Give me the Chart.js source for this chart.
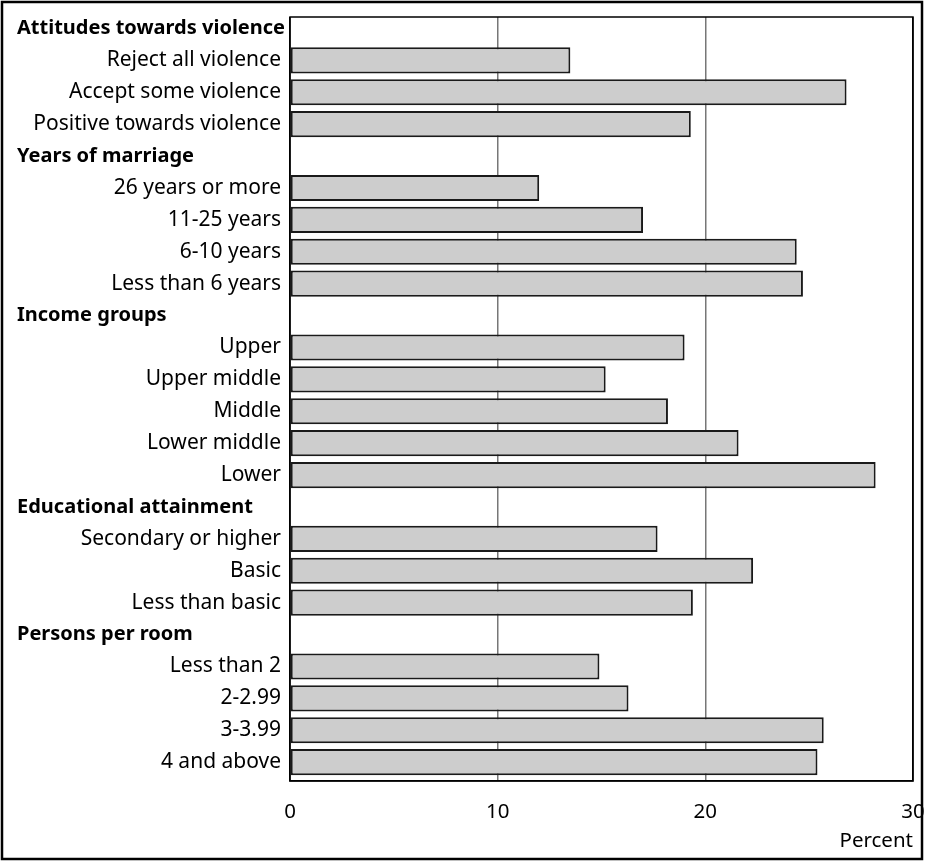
<!DOCTYPE html>
<html>
<head>
<meta charset="utf-8">
<script src="https://cdn.jsdelivr.net/npm/chart.js@4/dist/chart.umd.min.js"></script>
<style>
  html, body { margin: 0; padding: 0; background: #fff; }
  #wrap { position: relative; width: 925px; height: 861px; }
</style>
</head>
<body>
<div id="wrap"><canvas id="barChart"></canvas></div>
<script>
// rows top to bottom; group headers have no bar
const categories = [
  "Attitudes towards violence", "Reject all violence", "Accept some violence", "Positive towards violence",
  "Years of marriage", "26 years or more", "11-25 years", "6-10 years", "Less than 6 years",
  "Income groups", "Upper", "Upper middle", "Middle", "Lower middle", "Lower",
  "Educational attainment", "Secondary or higher", "Basic", "Less than basic",
  "Persons per room", "Less than 2", "2-2.99", "3-3.99", "4 and above"
];
const groupHeaders = [
  "Attitudes towards violence", "Years of marriage", "Income groups",
  "Educational attainment", "Persons per room"
];
const percentValues = [
  null, 13.5, 26.8, 19.3,
  null, 12.0, 17.0, 24.4, 24.7,
  null, 19.0, 15.2, 18.2, 21.6, 28.2,
  null, 17.7, 22.3, 19.4,
  null, 14.9, 16.3, 25.7, 25.4
];
const xTicks = [0, 10, 20, 30];
const xTitle = "Percent";

const FONT = "'Noto Sans', 'Open Sans', sans-serif";

// one point per row that has a bar; y is the row index
const barPoints = [];
percentValues.forEach((v, i) => { if (v !== null) barPoints.push({ x: v, y: i }); });

// frame around the whole figure, box around plot, bold group headers
const decorations = {
  id: "decorations",
  afterDraw(chart) {
    const { ctx, chartArea: a } = chart;
    const yScale = chart.scales.y;
    ctx.save();
    ctx.strokeStyle = "#000";
    ctx.lineWidth = 1.5;
    ctx.strokeRect(a.left, a.top, a.right - a.left, a.bottom - a.top);
    ctx.lineWidth = 2.5;
    ctx.strokeRect(2, 2, chart.width - 5, chart.height - 4);
    ctx.fillStyle = "#000";
    ctx.font = "bold 20px " + FONT;
    ctx.textAlign = "left";
    ctx.textBaseline = "middle";
    categories.forEach((c, i) => {
      if (groupHeaders.includes(c)) {
        ctx.fillText(c, 17, yScale.getPixelForValue(i));
      }
    });
    ctx.restore();
  }
};

new Chart(document.getElementById("barChart"), {
  type: "bar",
  data: {
    datasets: [{
      data: barPoints,
      backgroundColor: "#cdcdcd",
      borderColor: "#1a1a1a",
      borderWidth: 2,
      borderSkipped: false,
      barPercentage: 0.82,
      categoryPercentage: 1.0
    }]
  },
  options: {
    indexAxis: "y",
    responsive: true,
    maintainAspectRatio: false,
    animation: false,
    layout: { padding: { top: 17, right: 12, bottom: 0, left: 0 } },
    plugins: {
      legend: { display: false },
      tooltip: { enabled: false }
    },
    scales: {
      x: {
        type: "linear",
        min: 0,
        max: 30,
        afterBuildTicks: (scale) => { scale.ticks = xTicks.map(v => ({ value: v })); },
        afterFit: (scale) => {
          scale.height = 80;
          scale.paddingLeft = 0;
          scale.paddingRight = 0;
        },
        grid: {
          drawTicks: false,
          color: (c) => (c.tick && (c.tick.value === 0 || c.tick.value === 30)) ? "#000" : "#777",
          lineWidth: 1.5
        },
        border: { display: true, color: "#000", width: 1.5 },
        ticks: {
          color: "#000",
          padding: 19,
          font: { family: FONT, size: 20.5 }
        },
        title: {
          display: true,
          text: xTitle,
          align: "end",
          color: "#000",
          font: { family: FONT, size: 20.5 },
          padding: { top: 0, bottom: 8 }
        }
      },
      y: {
        type: "linear",
        reverse: true,
        offset: false,
        min: -0.36,
        max: 23.59,
        afterBuildTicks: (scale) => { scale.ticks = categories.map((c, i) => ({ value: i })); },
        afterFit: (scale) => {
          scale.width = 290;
          scale.paddingTop = 0;
          scale.paddingBottom = 0;
        },
        grid: { display: false, drawTicks: false, offset: false },
        border: { display: false },
        ticks: {
          color: "#000",
          padding: 9,
          autoSkip: false,
          font: { family: FONT, size: 21 },
          callback: (v) => groupHeaders.includes(categories[v]) ? "" : categories[v]
        }
      }
    }
  },
  plugins: [decorations]
});
</script>
</body>
</html>
